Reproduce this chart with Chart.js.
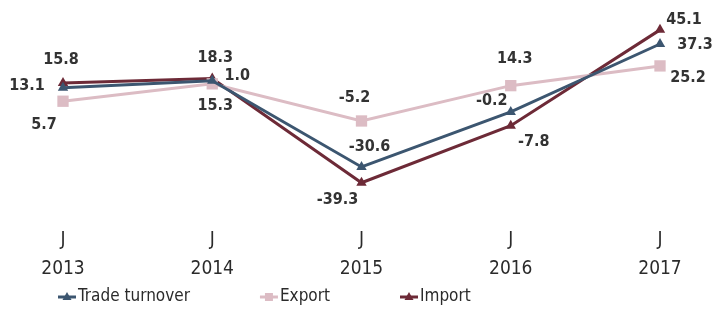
<!DOCTYPE html>
<html>
<head>
<meta charset="utf-8">
<script src="https://cdn.jsdelivr.net/npm/chart.js@4"></script>
<style>
  html, body { margin: 0; padding: 0; background: #fff; }
  #wrap { width: 717px; height: 311px; position: relative; }
</style>
</head>
<body>
<div id="wrap"><canvas id="tradeChart"></canvas></div>
<script>
// chart data
const years = ["2013", "2014", "2015", "2016", "2017"];
const turnoverValues = [13.1, 17.0, -30.6, -0.2, 37.3];
const exportValues = [5.7, 15.3, -5.2, 14.3, 25.2];
const importValues = [15.8, 18.3, -39.3, -7.8, 45.1];

// printed point labels (as shown on the picture)
const turnoverLabels = ["13.1", "1.0", "-30.6", "-0.2", "37.3"];
const exportLabels = ["5.7", "15.3", "-5.2", "14.3", "25.2"];
const importLabels = ["15.8", "18.3", "-39.3", "-7.8", "45.1"];

// label offsets from each point (styling only)
const turnoverOffsets = [[-36, -2], [25, -5], [8, -20], [-19, -11], [35, 1]];
const exportOffsets = [[-19, 24], [3, 22], [-7, -23], [4, -27], [28, 12]];
const importOffsets = [[-2, -23], [3, -21], [-24, 17], [23, 16], [24, -10]];

const colors = {
    turnover: "#3c5670",
    export: "#dcbcc4",
    import: "#6d2a37"
};

const labelFont = "bold condensed 16px 'DejaVu Sans', sans-serif";
const axisFamily = "'DejaVu Sans', sans-serif";

// draws the value labels next to each point
const pointLabels = {
    id: "pointLabels",
    afterDatasetsDraw(chart) {
        const ctx = chart.ctx;
        ctx.save();
        ctx.font = labelFont;
        ctx.fillStyle = "#333333";
        ctx.textAlign = "center";
        ctx.textBaseline = "middle";
        chart.data.datasets.forEach((ds, i) => {
            const meta = chart.getDatasetMeta(i);
            meta.data.forEach((pt, j) => {
                const off = ds.labelOffsets[j];
                ctx.fillText(ds.pointText[j], pt.x + off[0], pt.y + off[1]);
            });
        });
        ctx.restore();
    }
};

// legend with a short line + marker before each name
const lineLegend = {
    id: "lineLegend",
    afterDraw(chart) {
        const ctx = chart.ctx;
        ctx.save();
        ctx.font = "condensed 17px " + axisFamily;
        ctx.textBaseline = "middle";
        ctx.textAlign = "left";
        let x = chart.chartArea.left - 5;
        const y = 297;
        chart.data.datasets.forEach(ds => {
            ctx.strokeStyle = ds.borderColor;
            ctx.lineWidth = 3;
            ctx.beginPath();
            ctx.moveTo(x, y);
            ctx.lineTo(x + 18, y);
            ctx.stroke();
            ctx.fillStyle = ds.borderColor;
            const cx = x + 9;
            if (ds.pointStyle === "rect") {
                ctx.fillRect(cx - 4, y - 4, 8, 8);
            } else {
                ctx.beginPath();
                ctx.moveTo(cx, y - 5);
                ctx.lineTo(cx + 4.5, y + 3);
                ctx.lineTo(cx - 4.5, y + 3);
                ctx.closePath();
                ctx.fill();
            }
            ctx.fillStyle = "#2b2b2b";
            ctx.fillText(ds.label, x + 20, y);
            x += 20 + ctx.measureText(ds.label).width + 70;
        });
        ctx.restore();
    }
};

function makeDataset(label, values, texts, offsets, color, style, radius) {
    return {
        label: label,
        data: values,
        pointText: texts,
        labelOffsets: offsets,
        borderColor: color,
        backgroundColor: color,
        borderWidth: 3,
        pointStyle: style,
        pointRadius: radius,
        pointHoverRadius: radius,
        pointBorderWidth: 0,
        tension: 0,
        clip: false
    };
}

const ctx = document.getElementById("tradeChart").getContext("2d");

new Chart(ctx, {
    type: "line",
    data: {
        labels: years.map(y => ["J", y]),
        datasets: [
            makeDataset("Trade turnover", turnoverValues, turnoverLabels, turnoverOffsets, colors.turnover, "triangle", 6),
            makeDataset("Export", exportValues, exportLabels, exportOffsets, colors.export, "rect", 8),
            makeDataset("Import", importValues, importLabels, importOffsets, colors.import, "triangle", 6)
        ]
    },
    options: {
        responsive: true,
        maintainAspectRatio: false,
        animation: false,
        layout: { padding: { top: 21, left: 63, right: 57, bottom: 4 } },
        plugins: {
            legend: { display: false },
            tooltip: { enabled: false }
        },
        scales: {
            x: {
                offset: false,
                grid: { display: false, drawTicks: false },
                border: { display: false },
                ticks: {
                    color: "#2b2b2b",
                    padding: 23,
                    maxRotation: 0,
                    font: { family: axisFamily, weight: "condensed", size: 19, lineHeight: 1.55 }
                }
            },
            y: {
                display: false,
                min: -50,
                max: 50
            }
        }
    },
    plugins: [pointLabels, lineLegend]
});
</script>
</body>
</html>
